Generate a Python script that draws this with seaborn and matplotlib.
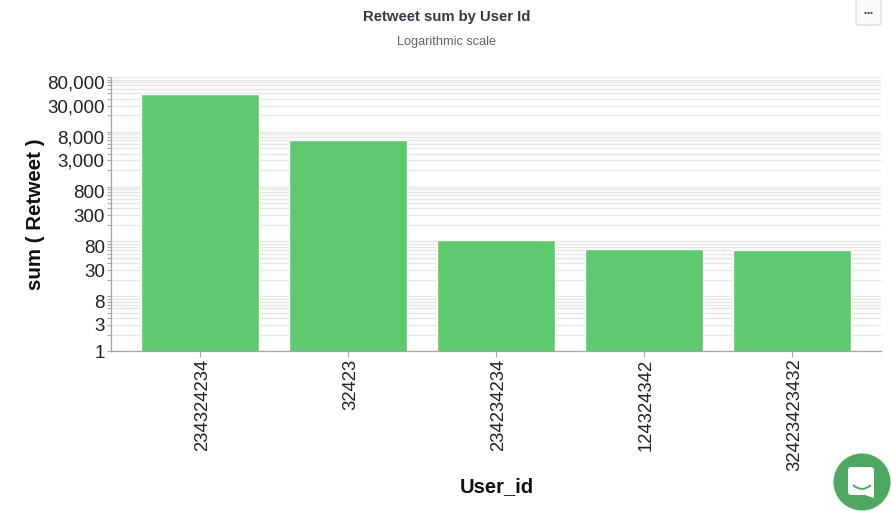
import pandas as pd
import matplotlib.pyplot as plt
import seaborn as sns
from matplotlib.patches import Circle, FancyBboxPatch, Polygon, PathPatch
from matplotlib.path import Path
from matplotlib.ticker import LogLocator, FixedLocator, NullFormatter
from matplotlib.transforms import ScaledTranslation

# dades
user_ids = ['234324234', '32423', '234234234', '124324342', '32423423432']
retweets = [48000, 7000, 106, 72, 70]
y_labels = ['1', '3', '8', '30', '80', '300', '800', '3,000', '8,000', '30,000', '80,000']
y_label_vals = [1, 3, 8, 30, 80, 300, 800, 3000, 8000, 30000, 80000]

W, H = 892, 511
sns.set_style('white')
plt.rcParams['font.family'] = ['Liberation Sans', 'DejaVu Sans']

data = pd.DataFrame({'User_id': user_ids, 'Retweet': retweets})

fig = plt.figure(figsize=(W / 100, H / 100), dpi=100)
ax = fig.add_axes([111 / W, 1 - 351 / H, (881 - 111) / W, (351 - 77) / H])

sns.barplot(data=data, x='User_id', y='Retweet', color='#5fc96f', saturation=1,
            width=0.8, ax=ax, zorder=3)
ax.set_yscale('log')
ax.set_ylim(1, 100000)
ax.set_xlim(-0.6, 4.6)

ax.yaxis.set_major_locator(FixedLocator(y_label_vals))
ax.set_yticklabels(y_labels)
ax.yaxis.set_minor_locator(LogLocator(base=10, subs=range(1, 10), numticks=12))
ax.yaxis.set_minor_formatter(NullFormatter())
ax.grid(True, axis='y', which='both', color='#e6e6e6', linewidth=1.0, zorder=0)
ax.set_axisbelow(True)

ax.tick_params(axis='y', which='both', left=True, length=3, width=0.8, color='#aaaaaa',
               labelsize=13.5, labelcolor='#222222', pad=1.5)
ax.tick_params(axis='x', bottom=True, length=4, width=0.8, color='#aaaaaa',
               labelsize=13.3, labelcolor='#222222', labelrotation=90, pad=1.5)

# les etiquetes giradas queden una mica a l'esquerra del tick
shift = ScaledTranslation(2.5 / 100, 0, fig.dpi_scale_trans)
for lab in ax.get_xticklabels():
    lab.set_transform(lab.get_transform() + shift)

for side in ['top', 'right']:
    ax.spines[side].set_visible(False)
for side in ['left', 'bottom']:
    ax.spines[side].set_color('#a5a5a5')
    ax.spines[side].set_linewidth(0.9)

ax.set_xlabel('')
ax.set_ylabel('')
fig.text(35.5 / W, 1 - 214 / H, 'sum ( Retweet )', rotation=90, ha='center', va='center',
         fontsize=14.8, fontweight='bold', color='#111111')
fig.text(497 / W, 1 - 487 / H, 'User_id', ha='center', va='center',
         fontsize=14.5, fontweight='bold', color='#111111')

# titol
fig.text(447 / W, 1 - 16.5 / H, 'Retweet sum by User Id', ha='center', va='center',
         fontsize=10.7, fontweight='bold', color='#2f3a45')
fig.text(447 / W, 1 - 41.5 / H, 'Logarithmic scale', ha='center', va='center',
         fontsize=9.2, color='#5c6670')

# canvas en pixels per al boto i la bombolla
over = fig.add_axes([0, 0, 1, 1], zorder=10)
over.set_xlim(0, W)
over.set_ylim(H, 0)
over.axis('off')
over.patch.set_alpha(0)

over.add_patch(FancyBboxPatch((856, -4), 25, 29, boxstyle='round,pad=0,rounding_size=2',
                              facecolor='#fafafa', edgecolor='#dedede', linewidth=1.0))
for dot_x in [865.5, 868.5, 871.5]:
    over.add_patch(Circle((dot_x, 13), 1.1, facecolor='#444444', edgecolor='none'))

over.add_patch(Circle((862, 482), 30, facecolor='#eeeeee', edgecolor='none', alpha=0.5))
over.add_patch(Circle((862, 482), 28.5, facecolor='#4fa862', edgecolor='none'))
over.add_patch(FancyBboxPatch((848, 467), 26, 28, boxstyle='round,pad=0,rounding_size=3',
                              facecolor='white', edgecolor='none'))
over.add_patch(Polygon([[862, 494], [874, 494], [874, 498]], closed=True,
                       facecolor='white', edgecolor='none'))
smile = Path([(853, 485), (862, 493), (871, 485)], [Path.MOVETO, Path.CURVE3, Path.CURVE3])
over.add_patch(PathPatch(smile, facecolor='none', edgecolor='#4fa862', linewidth=1.4))

fig.savefig('out.png', dpi=100)
plt.close()
